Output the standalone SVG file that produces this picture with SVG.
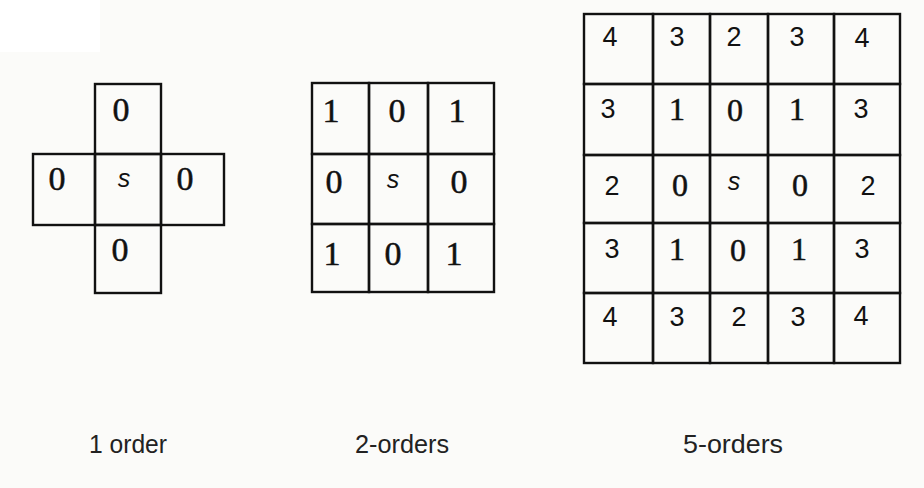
<svg xmlns="http://www.w3.org/2000/svg" width="924" height="488" viewBox="0 0 924 488">
<style>
.cell{fill:none;stroke:#111;stroke-width:2.4}
.ser{font-family:"Liberation Serif","Times New Roman",serif;font-size:34px;fill:#111;stroke:#111;stroke-width:0.5;text-anchor:middle}
.ser5{font-family:"Liberation Serif","Times New Roman",serif;font-size:32px;fill:#111;stroke:#111;stroke-width:0.5;text-anchor:middle}
.sans{font-family:"Liberation Sans",Arial,sans-serif;font-size:27px;fill:#111;text-anchor:middle}
.s{font-family:"Liberation Sans",Arial,sans-serif;font-style:italic;font-size:25px;fill:#111;text-anchor:middle}
.lbl{font-family:"Liberation Sans",Arial,sans-serif;font-size:25px;fill:#222}
</style>
<rect width="924" height="488" fill="#fbfbf9"/>
<rect width="100" height="52" fill="#ffffff"/>

<g id="order1">
  <g id="o1-top"><rect class="cell" x="95" y="84" width="66" height="70"/><text class="ser" x="121" y="121">0</text></g>
  <g id="o1-left"><rect class="cell" x="33" y="154" width="62" height="71"/><text class="ser" x="57" y="190">0</text></g>
  <g id="o1-center"><rect class="cell" x="95" y="154" width="66" height="71"/><text class="s" x="124" y="187">s</text></g>
  <g id="o1-right"><rect class="cell" x="161" y="154" width="63" height="71"/><text class="ser" x="185" y="190">0</text></g>
  <g id="o1-bottom"><rect class="cell" x="95" y="225" width="66" height="68"/><text class="ser" x="120" y="261">0</text></g>
</g>

<g id="order2">
  <g id="o2-r1c1"><rect class="cell" x="312" y="83" width="57" height="71"/><text class="ser" x="331" y="122">1</text></g>
  <g id="o2-r1c2"><rect class="cell" x="369" y="83" width="59" height="71"/><text class="ser" x="397" y="122">0</text></g>
  <g id="o2-r1c3"><rect class="cell" x="428" y="83" width="66" height="71"/><text class="ser" x="457" y="122">1</text></g>
  <g id="o2-r2c1"><rect class="cell" x="312" y="154" width="57" height="70"/><text class="ser" x="334" y="193">0</text></g>
  <g id="o2-r2c2"><rect class="cell" x="369" y="154" width="59" height="70"/><text class="s" x="393" y="188">s</text></g>
  <g id="o2-r2c3"><rect class="cell" x="428" y="154" width="66" height="70"/><text class="ser" x="459" y="193">0</text></g>
  <g id="o2-r3c1"><rect class="cell" x="312" y="224" width="57" height="68"/><text class="ser" x="332" y="265">1</text></g>
  <g id="o2-r3c2"><rect class="cell" x="369" y="224" width="59" height="68"/><text class="ser" x="393" y="265">0</text></g>
  <g id="o2-r3c3"><rect class="cell" x="428" y="224" width="66" height="68"/><text class="ser" x="454" y="265">1</text></g>
</g>

<g id="order5">
  <g id="o5-r1c1"><rect class="cell" x="584" y="14" width="69" height="70"/><text class="sans" x="610" y="46">4</text></g>
  <g id="o5-r1c2"><rect class="cell" x="653" y="14" width="57" height="70"/><text class="sans" x="677" y="46">3</text></g>
  <g id="o5-r1c3"><rect class="cell" x="710" y="14" width="58" height="70"/><text class="sans" x="734" y="46">2</text></g>
  <g id="o5-r1c4"><rect class="cell" x="768" y="14" width="66" height="70"/><text class="sans" x="797" y="46">3</text></g>
  <g id="o5-r1c5"><rect class="cell" x="834" y="14" width="66" height="70"/><text class="sans" x="862" y="47">4</text></g>

  <g id="o5-r2c1"><rect class="cell" x="584" y="84" width="69" height="71"/><text class="sans" x="608" y="118">3</text></g>
  <g id="o5-r2c2"><rect class="cell" x="653" y="84" width="57" height="71"/><text class="ser5" x="677" y="120">1</text></g>
  <g id="o5-r2c3"><rect class="cell" x="710" y="84" width="58" height="71"/><text class="ser5" x="735" y="121">0</text></g>
  <g id="o5-r2c4"><rect class="cell" x="768" y="84" width="66" height="71"/><text class="ser5" x="797" y="120">1</text></g>
  <g id="o5-r2c5"><rect class="cell" x="834" y="84" width="66" height="71"/><text class="sans" x="861" y="118">3</text></g>

  <g id="o5-r3c1"><rect class="cell" x="584" y="155" width="69" height="68"/><text class="sans" x="612" y="195">2</text></g>
  <g id="o5-r3c2"><rect class="cell" x="653" y="155" width="57" height="68"/><text class="ser5" x="680" y="196">0</text></g>
  <g id="o5-r3c3"><rect class="cell" x="710" y="155" width="58" height="68"/><text class="s" x="734" y="190">s</text></g>
  <g id="o5-r3c4"><rect class="cell" x="768" y="155" width="66" height="68"/><text class="ser5" x="800" y="196">0</text></g>
  <g id="o5-r3c5"><rect class="cell" x="834" y="155" width="66" height="68"/><text class="sans" x="868" y="195">2</text></g>

  <g id="o5-r4c1"><rect class="cell" x="584" y="223" width="69" height="70"/><text class="sans" x="612" y="258">3</text></g>
  <g id="o5-r4c2"><rect class="cell" x="653" y="223" width="57" height="70"/><text class="ser5" x="677" y="260">1</text></g>
  <g id="o5-r4c3"><rect class="cell" x="710" y="223" width="58" height="70"/><text class="ser5" x="738" y="261">0</text></g>
  <g id="o5-r4c4"><rect class="cell" x="768" y="223" width="66" height="70"/><text class="ser5" x="799" y="260">1</text></g>
  <g id="o5-r4c5"><rect class="cell" x="834" y="223" width="66" height="70"/><text class="sans" x="862" y="258">3</text></g>

  <g id="o5-r5c1"><rect class="cell" x="584" y="293" width="69" height="70"/><text class="sans" x="610" y="326">4</text></g>
  <g id="o5-r5c2"><rect class="cell" x="653" y="293" width="57" height="70"/><text class="sans" x="677" y="326">3</text></g>
  <g id="o5-r5c3"><rect class="cell" x="710" y="293" width="58" height="70"/><text class="sans" x="739" y="326">2</text></g>
  <g id="o5-r5c4"><rect class="cell" x="768" y="293" width="66" height="70"/><text class="sans" x="798" y="326">3</text></g>
  <g id="o5-r5c5"><rect class="cell" x="834" y="293" width="66" height="70"/><text class="sans" x="861" y="325">4</text></g>
</g>

<g id="labels">
  <text class="lbl" x="89" y="453" textLength="78" lengthAdjust="spacingAndGlyphs">1 order</text>
  <text class="lbl" x="355" y="453" textLength="94" lengthAdjust="spacingAndGlyphs">2-orders</text>
  <text class="lbl" x="683" y="453" textLength="100" lengthAdjust="spacingAndGlyphs">5-orders</text>
</g>
</svg>
